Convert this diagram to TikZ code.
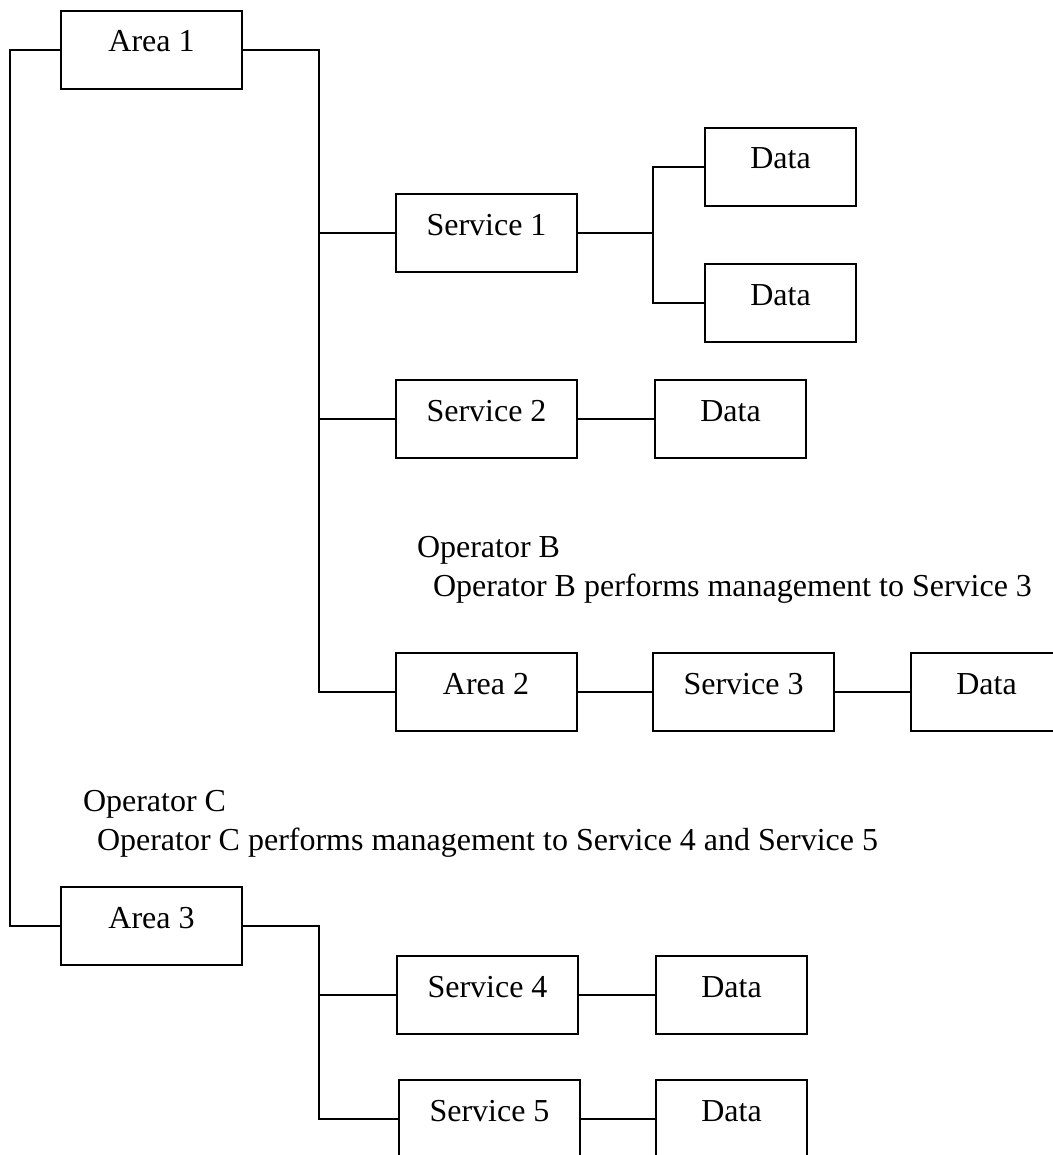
\documentclass[tikz,border=0pt]{standalone}
\usepackage{fontspec}
\setmainfont{Liberation Serif}
\begin{document}
\begin{tikzpicture}[x=0.5pt,y=-0.5pt,line width=1pt,
  txt/.style={font=\fontsize{16pt}{19.5pt}\selectfont},
  box/.style={txt,draw,line width=1pt,inner sep=0pt,text height=20.5pt,text depth=18.5pt,minimum width=90.5pt},
  dbox/.style={box,minimum width=75.5pt},
  lbl/.style={txt,inner sep=0pt,anchor=base west}]
\useasboundingbox (0,0) rectangle (1053,1155);
\clip (0,0) rectangle (1053,1155);
% boxes
\node[box]  (a1)  at (151.5,50)  {Area 1};
\node[box]  (s1)  at (486.5,233) {Service 1};
\node[dbox] (d1a) at (780.5,167) {Data};
\node[dbox] (d1b) at (780.5,303) {Data};
\node[box]  (s2)  at (486.5,419) {Service 2};
\node[dbox] (d2)  at (730.5,419) {Data};
\node[box]  (a2)  at (486,692)   {Area 2};
\node[box]  (s3)  at (743.5,692) {Service 3};
\node[dbox] (d3)  at (986.5,692) {Data};
\node[box]  (a3)  at (151.5,926) {Area 3};
\node[box]  (s4)  at (487.5,995) {Service 4};
\node[dbox] (d4)  at (731.5,995) {Data};
\node[box]  (s5)  at (489.5,1119) {Service 5};
\node[dbox] (d5)  at (731.5,1119) {Data};
% labels
\node[lbl] (opb)  at (416,557) {Operator B};
\node[lbl] (opbt) at (432,596) {Operator B performs management to Service 3};
\node[lbl] (opc)  at (82,811)  {Operator C};
\node[lbl] (opct) at (96,850)  {Operator C performs management to Service 4 and Service 5};
% trunk coordinates
\coordinate (L) at (10,0);
\coordinate (T) at (319,0);
\coordinate (J) at (653,0);
% connectors
\draw (a1.west) -- (a1.west -| L) -- (a3.west -| L) -- (a3.west);
\draw (a1.east) -- (a1.east -| T) -- (a2.west -| T) -- (a2.west);
\draw (s1.west -| T) -- (s1.west);
\draw (s2.west -| T) -- (s2.west);
\draw (s1.east) -- (s1.east -| J);
\draw (d1a.west) -- (d1a.west -| J) -- (d1b.west -| J) -- (d1b.west);
\draw (s2.east) -- (d2.west);
\draw (a2.east) -- (s3.west);
\draw (s3.east) -- (d3.west);
\draw (a3.east) -- (a3.east -| T) -- (s5.west -| T) -- (s5.west);
\draw (s4.west -| T) -- (s4.west);
\draw (s4.east) -- (d4.west);
\draw (s5.east) -- (d5.west);
\end{tikzpicture}
\end{document}
